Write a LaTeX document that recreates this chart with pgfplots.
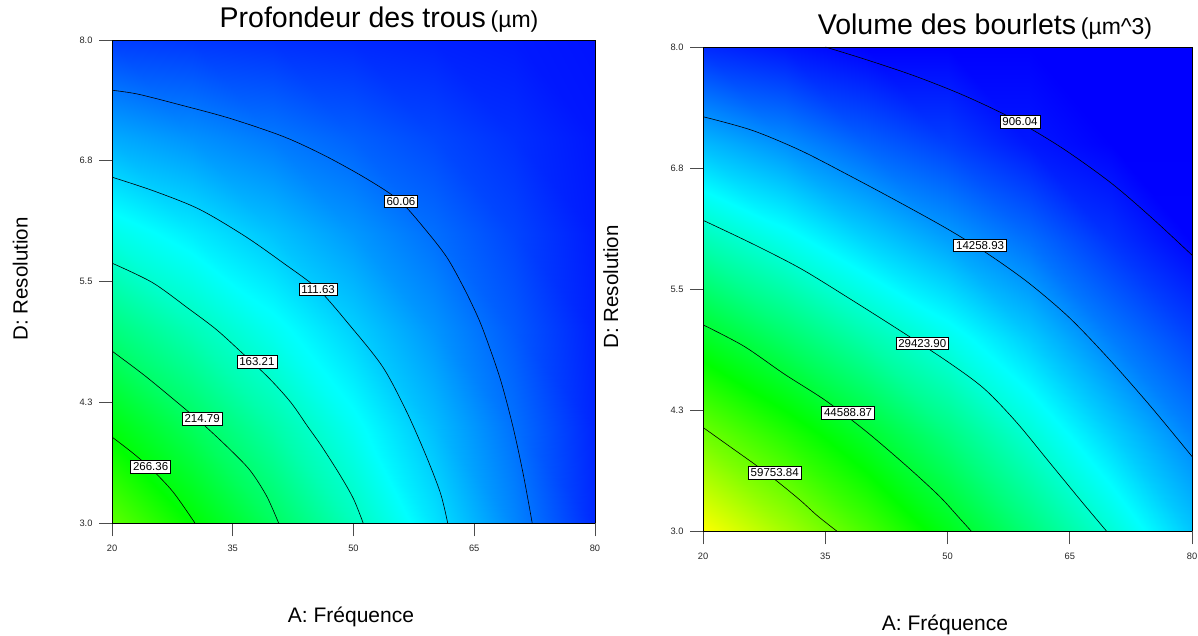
\documentclass[border=0pt]{standalone}
\usepackage{fontspec}
\setmainfont{Liberation Sans}
\usepackage{pgfplots}
\pgfplotsset{compat=1.18}
\usepackage{graphicx}

\tikzset{
  lbl/.style={draw=black, fill=white, line width=0.6pt, inner xsep=2.4pt, inner ysep=2.2pt,
    font=\fontsize{11.5}{12}\selectfont},
}
\pgfplotsset{
  colormap={de}{rgb255=(0,0,255) rgb255=(0,255,255) rgb255=(0,255,0) rgb255=(255,255,0)},
  contplot/.style={
    view={0}{90},
    scale only axis,
    xmin=20, xmax=80, ymin=3, ymax=8,
    xtick={20,35,50,65,80},
    ytick={3,4.25,5.5,6.75,8},
    yticklabels={3.0,4.3,5.5,6.8,8.0},
    ztick=\empty,
    tick align=outside,
    xtick pos=left, ytick pos=left,
    major tick length=13pt,
    tick style={black!70, line width=0.9pt},
    tick label style={font=\fontsize{9.3}{10}\selectfont, black!85},
    /pgf/number format/assume math mode=true,
    xticklabel shift=5pt,
    yticklabel shift=3pt,
    axis on top,
    colormap name=de,
    axis line style={line width=0.8pt},
    clip=true,
  },
  cl/.style={black, line width=0.6pt, smooth, tension=0.5, no markers},
}

\pgfplotstableread{
x y z
20 3 319.0
30 3 269.4
40 3 219.8
50 3 170.2
60 3 120.6
70 3 71.0
80 3 21.4
20 4 261.7
30 4 221.3
40 4 180.8
50 4 140.4
60 4 99.9
70 4 59.5
80 4 19.0
20 5 204.4
30 5 173.1
40 5 141.8
50 5 110.5
60 5 79.2
70 5 47.9
80 5 16.6
20 6 147.1
30 6 125.0
40 6 102.8
50 6 80.7
60 6 58.5
70 6 36.4
80 6 14.2
20 7 89.8
30 7 76.8
40 7 63.8
50 7 50.8
60 7 37.8
70 7 24.8
80 7 11.8
20 8 32.5
30 8 28.7
40 8 24.8
50 8 21.0
60 8 17.1
70 8 13.3
80 8 9.4
}\depthgrid

\pgfplotstableread{
x y z
20 3 74920
30 3 66000
40 3 57000
50 3 47500
60 3 38150
70 3 28970
80 3 19500
20 4 60750
30 4 53280
40 4 45600
50 4 37480
60 4 29060
70 4 20500
80 4 12820
20 5 46450
30 5 39750
40 5 32960
50 5 26790
60 5 19920
70 5 12250
80 5 6550
20 6 32370
30 6 26770
40 6 20830
50 6 15800
60 6 10960
70 6 5070
80 6 280
20 7 18230
30 7 14130
40 7 9670
50 7 6280
60 7 2290
70 7 0
80 7 0
20 8 4050
30 8 2100
40 8 0
50 8 0
60 8 0
70 8 0
80 8 0
}\volgrid

\begin{document}
\begin{tikzpicture}
\path[use as bounding box] (0pt,0pt) rectangle (1198pt,635pt);

% ---------------- left: Profondeur des trous ----------------
\begin{axis}[contplot, at={(112pt,112pt)}, anchor=south west,
  width=483pt, height=483pt, point meta min=0, point meta max=405]
\addplot3[surf, shader=interp, mesh/cols=7, point meta=\thisrow{z}] table[x=x,y=y,z=z] {\depthgrid};
% 60.06
\addplot[cl] coordinates {(20,7.48) (23.2,7.44) (28.4,7.33) (34.6,7.19) (41.3,7.00) (46.5,6.80) (51.7,6.56) (55.8,6.33) (59.3,6.00) (61.6,5.75) (63.3,5.50) (64.8,5.25) (66.1,5.00) (68.2,4.50) (69.8,4.00) (71.1,3.50) (72.2,3.00)};
% 111.63
\addplot[cl] coordinates {(20,6.58) (25.1,6.44) (30.8,6.25) (36.5,5.97) (41.3,5.69) (45.6,5.42) (49.5,5.05) (53.6,4.62) (56.5,4.17) (58.9,3.72) (60.8,3.31) (61.7,3.00)};
% 163.21
\addplot[cl] coordinates {(20,5.69) (25.0,5.49) (29.5,5.22) (33.0,5.00) (36.3,4.75) (39.5,4.50) (42.2,4.25) (44.3,4.00) (46.0,3.80) (48.3,3.50) (50.0,3.25) (51.2,3.00)};
% 214.79
\addplot[cl] coordinates {(20,4.78) (24.0,4.53) (27.8,4.27) (31.2,4.03) (34.3,3.79) (37.1,3.55) (39.2,3.28) (40.7,3.00)};
% 266.36
\addplot[cl] coordinates {(20,3.89) (22.5,3.73) (25.0,3.55) (27.6,3.32) (30.3,3.00)};
\node[lbl] at (axis cs:55.9,6.33) {60.06};
\node[lbl] at (axis cs:45.6,5.42) {111.63};
\node[lbl] at (axis cs:38.0,4.67) {163.21};
\node[lbl] at (axis cs:31.2,4.08) {214.79};
\node[lbl] at (axis cs:24.8,3.58) {266.36};
\draw[black!55, line width=0.9pt] (rel axis cs:0,0) -- (rel axis cs:0,1);
\end{axis}

% ---------------- right: Volume des bourlets ----------------
\begin{axis}[contplot, at={(703pt,104pt)}, anchor=south west,
  width=489pt, height=484pt, point meta min=0, point meta max=75000]
\addplot3[surf, shader=interp, mesh/cols=7, point meta=\thisrow{z}] table[x=x,y=y,z=z] {\volgrid};
% 906.04
\addplot[cl] coordinates {(35,8.00) (40,7.87) (46,7.70) (52,7.50) (58,7.26) (64,6.96) (70,6.60) (75,6.24) (80,5.85)};
% 14258.93
\addplot[cl] coordinates {(20,7.28) (26,7.14) (32,6.93) (38,6.67) (44,6.40) (50,6.12) (55,5.86) (60,5.56) (65,5.20) (70,4.76) (75,4.28) (80,3.77)};
% 29423.90
\addplot[cl] coordinates {(20,6.21) (26,5.97) (32,5.71) (38,5.40) (44,5.08) (50,4.75) (54.5,4.47) (58.5,4.12) (62.5,3.71) (66.5,3.30) (69.5,3.00)};
% 44588.87
\addplot[cl] coordinates {(20,5.13) (25,4.91) (30,4.62) (35,4.35) (40,4.03) (45,3.67) (49,3.36) (51.5,3.13) (52.9,3.00)};
% 59753.84
\addplot[cl] coordinates {(20,4.07) (23,3.89) (26.5,3.68) (29,3.52) (31.9,3.32) (34,3.16) (36.4,3.00)};
\node[lbl] at (axis cs:58.9,7.23) {906.04};
\node[lbl] at (axis cs:54.0,5.95) {14258.93};
\node[lbl] at (axis cs:46.9,4.94) {29423.90};
\node[lbl] at (axis cs:37.8,4.22) {44588.87};
\node[lbl] at (axis cs:28.8,3.60) {59753.84};
\draw[black!55, line width=0.9pt] (rel axis cs:0,0) -- (rel axis cs:0,1);
\end{axis}

% ---------------- titles and axis labels ----------------
\node[anchor=base, inner sep=0pt] at (379pt,607pt)
  {\fontsize{28.5}{32}\selectfont Profondeur des trous\,\fontsize{23}{26}\selectfont(µm)};
\node[anchor=base, inner sep=0pt] at (985pt,600pt)
  {\fontsize{28.5}{32}\selectfont Volume des bourlets\,\fontsize{23}{26}\selectfont(µm\^{}3)};

\node[anchor=base, inner sep=0pt, font=\fontsize{21}{24}\selectfont] at (351pt,13pt) {A: Fréquence};
\node[anchor=base, inner sep=0pt, font=\fontsize{21}{24}\selectfont] at (945pt,5pt) {A: Fréquence};

\node[anchor=base, rotate=90, inner sep=0pt, font=\fontsize{20.5}{24}\selectfont] at (27.5pt,356pt) {D: Resolution};
\node[anchor=base, rotate=90, inner sep=0pt, font=\fontsize{20.5}{24}\selectfont] at (618pt,348pt) {D: Resolution};
\end{tikzpicture}
\end{document}
